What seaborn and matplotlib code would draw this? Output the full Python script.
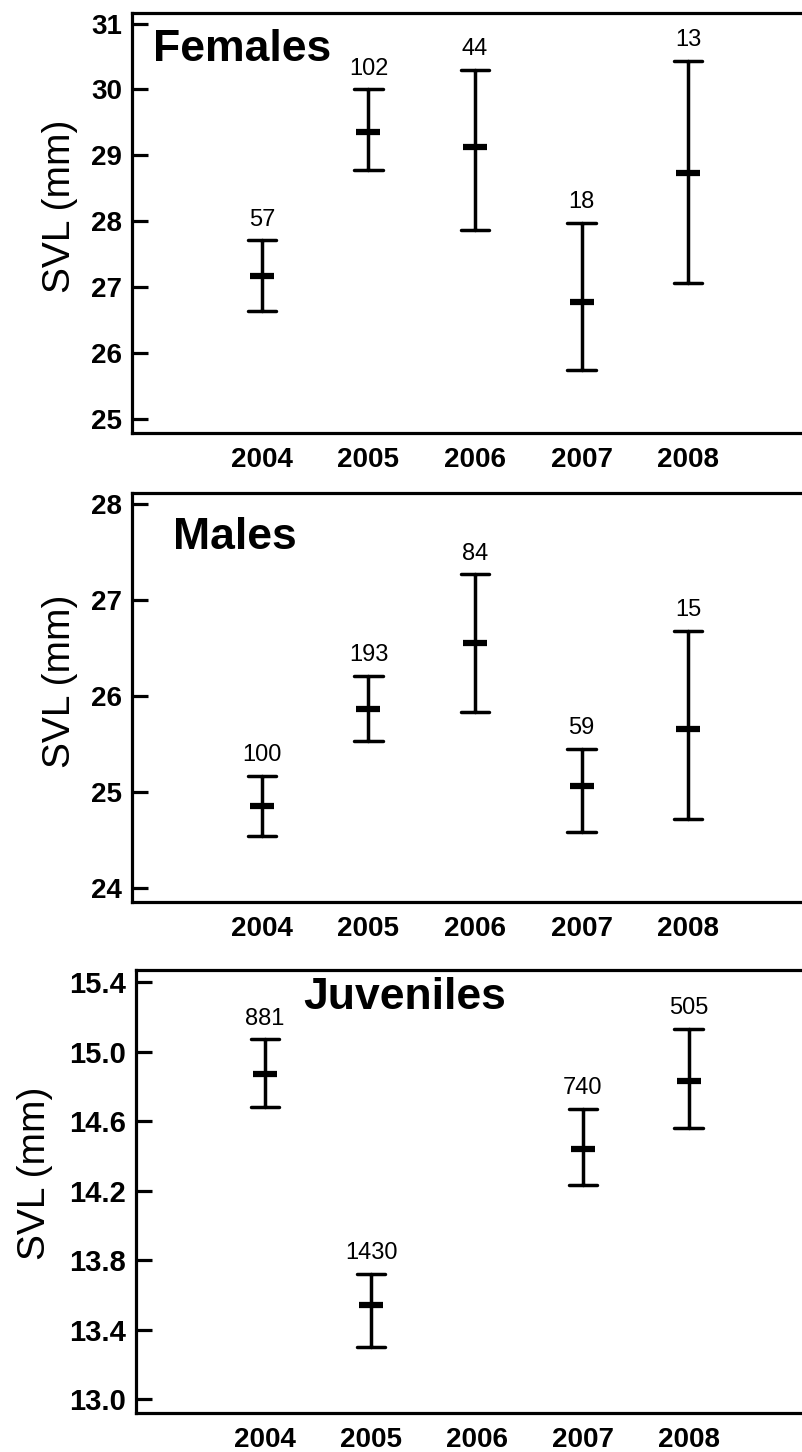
import numpy as np
import pandas as pd
import matplotlib
matplotlib.use("Agg")
import matplotlib.pyplot as plt
import seaborn as sns

sns.set_theme(style="ticks")
plt.rcParams['font.family'] = ['Liberation Sans', 'DejaVu Sans']
plt.rcParams['text.color'] = 'black'
plt.rcParams['axes.labelcolor'] = 'black'

YEARS = ["2004", "2005", "2006", "2007", "2008"]

# Females: mean with lower / upper end of the error bar, and sample size
fem_years = ["2004", "2005", "2006", "2007", "2008"]
fem_mean = [27.17, 29.36, 29.13, 26.78, 28.73]
fem_low = [26.64, 28.78, 27.87, 25.74, 27.06]
fem_high = [27.71, 30.00, 30.30, 27.97, 30.43]
fem_n = [57, 102, 44, 18, 13]

# Males
mal_years = ["2004", "2005", "2006", "2007", "2008"]
mal_mean = [24.85, 25.87, 26.55, 25.06, 25.66]
mal_low = [24.54, 25.53, 25.83, 24.58, 24.72]
mal_high = [25.17, 26.21, 27.27, 25.45, 26.68]
mal_n = [100, 193, 84, 59, 15]

# Juveniles (no 2006 sample)
juv_years = ["2004", "2005", "2007", "2008"]
juv_mean = [14.87, 13.54, 14.44, 14.83]
juv_low = [14.68, 13.30, 14.23, 14.56]
juv_high = [15.07, 13.72, 14.67, 15.13]
juv_n = [881, 1430, 740, 505]

W, H = 802, 1452


def to_long(years, low, mean, high):
    """Three rows per year so that median = mean and the 0-100 range = error bar."""
    rows = []
    for y, lo, m, hi in zip(years, low, mean, high):
        for v in (lo, m, hi):
            rows.append({"year": y, "value": v})
    return pd.DataFrame(rows)


panels = [
    dict(name="Females", years=fem_years, mean=fem_mean, low=fem_low, high=fem_high, n=fem_n,
         box=(132, 13, 433), ylim=(24.79, 31.16), yticks=[25, 26, 27, 28, 29, 30, 31],
         fmt="{:.0f}", title_xy=(0.031, 0.912), tick_fs=20, ylab_x=-0.08),
    dict(name="Males", years=mal_years, mean=mal_mean, low=mal_low, high=mal_high, n=mal_n,
         box=(132, 493, 902), ylim=(23.85, 28.12), yticks=[24, 25, 26, 27, 28],
         fmt="{:.0f}", title_xy=(0.061, 0.89), tick_fs=20, ylab_x=-0.08),
    dict(name="Juveniles", years=juv_years, mean=juv_mean, low=juv_low, high=juv_high, n=juv_n,
         box=(136, 970, 1413), ylim=(12.92, 15.47), yticks=[13.0, 13.4, 13.8, 14.2, 14.6, 15.0, 15.4],
         fmt="{:.1f}", title_xy=(0.251, 0.939), tick_fs=21, ylab_x=-0.125),
]

fig = plt.figure(figsize=(W / 100, H / 100), dpi=100)

for p in panels:
    left, top, bottom = p["box"]
    ax = fig.add_axes([left / W, 1 - bottom / H, (W - left) / W, (bottom - top) / H])

    df = to_long(p["years"], p["low"], p["mean"], p["high"])
    sns.pointplot(data=df, x="year", y="value", order=YEARS,
                  estimator="median", errorbar=("pi", 100),
                  color="black", markers="_", linestyles="none",
                  capsize=0.27, err_kws={"linewidth": 2.5},
                  markersize=17, markeredgewidth=4.5, ax=ax)

    # sample sizes above the upper caps
    for y, hi, n in zip(p["years"], p["high"], p["n"]):
        ax.annotate(str(n), (YEARS.index(y), hi), xytext=(0, 15),
                    textcoords="offset points", ha="center", va="center",
                    fontsize=17, color="black")

    ax.text(p["title_xy"][0], p["title_xy"][1], p["name"], transform=ax.transAxes,
            fontsize=32, fontweight="bold", ha="left", va="center", color="black")

    ax.set_xlim(-1.22, 5.07)
    ax.set_ylim(*p["ylim"])
    ax.set_yticks(p["yticks"])
    ax.set_yticklabels([p["fmt"].format(t) for t in p["yticks"]],
                       fontsize=p["tick_fs"], fontweight="bold")
    ax.set_xticks(range(len(YEARS)))
    ax.set_xticklabels(YEARS, fontsize=20, fontweight="bold")

    ax.tick_params(axis="y", which="major", left=True, direction="in", length=11.5,
                   width=2.3, pad=7, colors="black")
    ax.tick_params(axis="x", bottom=False, length=0, pad=10, colors="black")

    ax.set_xlabel("")
    ax.set_ylabel("SVL (mm)", fontsize=28, color="black")
    ax.yaxis.set_label_coords(p["ylab_x"], 0.54)

    for side in ["left", "bottom", "top"]:
        ax.spines[side].set_visible(True)
        ax.spines[side].set_color("black")
        ax.spines[side].set_linewidth(2.3)
    ax.spines["right"].set_visible(False)

fig.savefig("out.png", dpi=100)
